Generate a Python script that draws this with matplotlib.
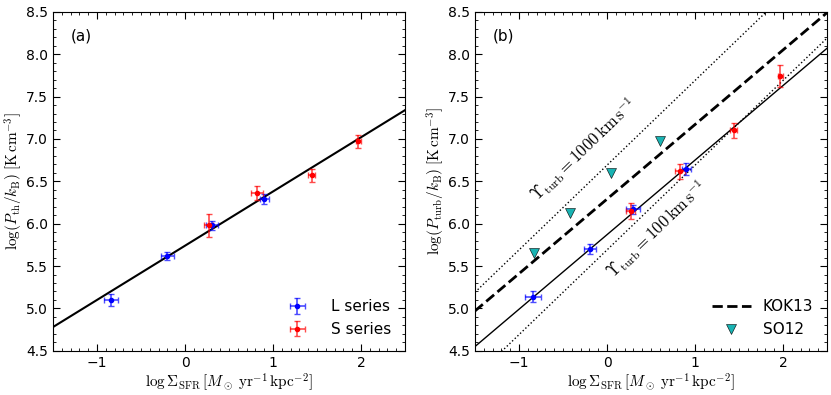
import matplotlib
matplotlib.use('Agg')
import matplotlib.pyplot as plt
import numpy as np
from matplotlib.ticker import MultipleLocator

plt.rcParams['mathtext.fontset'] = 'cm'
plt.rcParams['font.size'] = 10

# ---- panel (a): thermal pressure ----
l_sfr_a = [-0.84, -0.20, 0.31, 0.90]
l_p_a = [5.10, 5.62, 5.98, 6.29]
l_xerr_a = [0.08, 0.07, 0.07, 0.05]
l_yerr_a = [0.07, 0.05, 0.05, 0.06]

s_sfr_a = [0.27, 0.82, 1.44, 1.97]
s_p_a = [5.98, 6.36, 6.57, 6.97]
s_xerr_a = [0.05, 0.07, 0.04, 0.03]
s_yerr_a = [0.14, 0.08, 0.08, 0.08]

fit_a = (0.64, 5.74)   # slope, intercept

# ---- panel (b): turbulent pressure ----
l_sfr_b = [-0.84, -0.19, 0.30, 0.90]
l_p_b = [5.14, 5.70, 6.17, 6.65]
l_xerr_b = [0.09, 0.07, 0.08, 0.05]
l_yerr_b = [0.06, 0.06, 0.05, 0.07]

s_sfr_b = [0.27, 0.83, 1.44, 1.97]
s_p_b = [6.15, 6.62, 7.10, 7.74]
s_xerr_b = [0.05, 0.06, 0.04, 0.03]
s_yerr_b = [0.09, 0.09, 0.09, 0.13]

so12_sfr = [-0.83, -0.42, 0.04, 0.60]
so12_p = [5.65, 6.13, 6.60, 6.98]

fit_b = (0.88, 5.87)
kok13 = (0.88, 6.29)
ups_1000 = 6.69   # offset of slope-1 line
ups_100 = 5.69

xx = np.array([-1.5, 2.5])
xlab = r'$\log\Sigma_{\rm SFR}\,[M_\odot\;{\rm yr^{-1}\,kpc^{-2}}]$'

fig = plt.figure(figsize=(8.31, 3.95), dpi=100)
ax1 = fig.add_axes([0.0638, 0.112, 0.4236, 0.858])
ax2 = fig.add_axes([0.5716, 0.112, 0.4236, 0.858])

eb = dict(fmt='o', ms=3, capsize=2, elinewidth=1.2, capthick=1.0)

ax1.plot(xx, fit_a[0] * xx + fit_a[1], 'k-', lw=1.5)
ax1.errorbar(l_sfr_a, l_p_a, xerr=l_xerr_a, yerr=l_yerr_a, color='b',
             ecolor=(0, 0, 1, 0.7), label='L series', **eb)
ax1.errorbar(s_sfr_a, s_p_a, xerr=s_xerr_a, yerr=s_yerr_a, color='r',
             ecolor=(1, 0, 0, 0.7), label='S series', **eb)
ax1.text(0.05, 0.95, '(a)', transform=ax1.transAxes, va='top', ha='left',
         fontsize=11)
ax1.set_ylabel(r'$\log(P_{\rm th}/k_{\rm B})\;[{\rm K\,cm^{-3}}]$',
               fontsize=11, labelpad=1)
ax1.legend(loc='lower right', frameon=False, fontsize=11, handletextpad=1.2)

ax2.plot(xx, ups_1000 + xx, 'k:', lw=1)
ax2.plot(xx, ups_100 + xx, 'k:', lw=1)
ax2.plot(xx, kok13[0] * xx + kok13[1], 'k--', lw=2, label='KOK13')
ax2.plot(xx, fit_b[0] * xx + fit_b[1], 'k-', lw=1)
ax2.plot(so12_sfr, so12_p, 'v', color='#19b3b3', mec='k', mew=0.4, ms=6.5,
         label='SO12')
ax2.errorbar(l_sfr_b, l_p_b, xerr=l_xerr_b, yerr=l_yerr_b, color='b',
             ecolor=(0, 0, 1, 0.7), **eb)
ax2.errorbar(s_sfr_b, s_p_b, xerr=s_xerr_b, yerr=s_yerr_b, color='r',
             ecolor=(1, 0, 0, 0.7), **eb)
ax2.text(0.05, 0.95, '(b)', transform=ax2.transAxes, va='top', ha='left',
         fontsize=11)
ax2.set_ylabel(r'$\log(P_{\rm turb}/k_{\rm B})\;[{\rm K\,cm^{-3}}]$',
               fontsize=11, labelpad=1)
ax2.legend(loc='lower right', frameon=False, fontsize=11, handlelength=2.5)

ax2.text(-0.27, 6.87, r'$\Upsilon_{\rm turb}=1000\,{\rm km\,s^{-1}}$',
         rotation=44, ha='center', va='center', fontsize=12,
         rotation_mode='anchor')
ax2.text(0.56, 5.93, r'$\Upsilon_{\rm turb}=100\,{\rm km\,s^{-1}}$',
         rotation=44, ha='center', va='center', fontsize=12,
         rotation_mode='anchor')

for ax in (ax1, ax2):
    ax.set_xlim(-1.5, 2.5)
    ax.set_ylim(4.5, 8.5)
    ax.set_xticks([-1, 0, 1, 2])
    ax.set_xticklabels(['\u22121', '0', '1', '2'])
    ax.xaxis.set_minor_locator(MultipleLocator(0.1))
    ax.yaxis.set_major_locator(MultipleLocator(0.5))
    ax.yaxis.set_minor_locator(MultipleLocator(0.1))
    ax.tick_params(which='both', direction='in', top=True, right=True,
                   labelsize=10)
    ax.tick_params(which='major', length=5)
    ax.tick_params(which='minor', length=2.5)
    ax.set_xlabel(xlab, fontsize=11, labelpad=1)

fig.savefig('out.png', dpi=100)
